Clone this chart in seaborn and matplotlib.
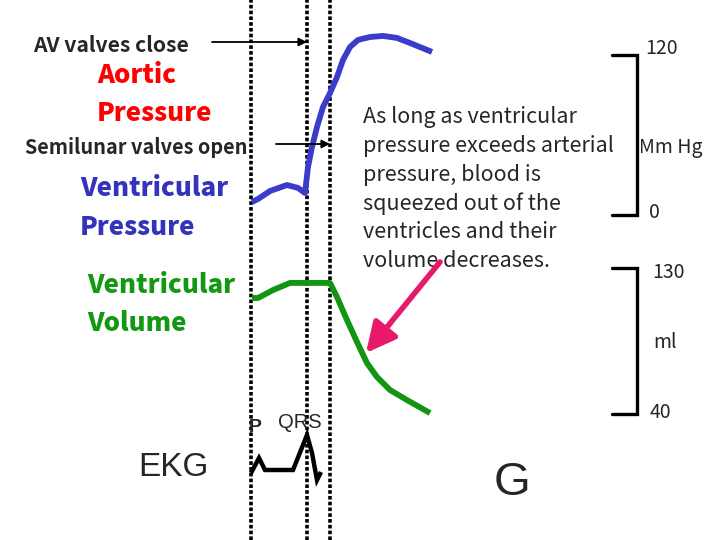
import matplotlib
matplotlib.use("Agg")
import matplotlib.pyplot as plt
import seaborn as sns
import pandas as pd

# ---------------- data ----------------
valve_times = [251, 307, 330]          # dotted event lines

pressure_t = [252, 258, 270, 287, 298, 305, 308, 312, 317, 323, 330, 337, 343, 350, 358,
              370, 383, 397, 410, 432]
pressure_mmhg = [9.8, 12.0, 18.0, 22.5, 20.3, 16.5, 36.0, 51.0, 66.0, 81.0, 91.5, 103.5,
                 116.3, 126.0, 131.3, 133.5, 134.3, 132.8, 129.0, 122.3]

volume_t = [252, 258, 273, 290, 330, 337, 347, 357, 367, 377, 390, 407, 430]
volume_ml = [111.5, 111.5, 116.4, 120.8, 120.8, 112.1, 97.9, 84.4, 71.4, 62.8, 54.8, 48.6, 40.6]

ekg_t = [251, 259, 265, 293, 307, 312, 317, 321]
ekg_mv = [-0.03, 0.12, 0.0, 0.0, 0.35, 0.17, -0.10, -0.02]

pressure_scale = [0, 120]
volume_scale = [40, 130]

paragraph = ["As long as ventricular", "pressure exceeds arterial", "pressure, blood is",
             "squeezed out of the", "ventricles and their", "volume decreases."]

# ---------------- scale mapping (drawing coordinates) ----------------
P_TOP, P_BOT = 55, 215     # y of 120 and 0 mmHg
V_TOP, V_BOT = 268, 414    # y of 130 and 40 ml
EKG_BASE, EKG_GAIN = 470, 100


def p2y(p):
    return P_BOT - (p - pressure_scale[0]) * (P_BOT - P_TOP) / (pressure_scale[1] - pressure_scale[0])


def v2y(v):
    return V_BOT - (v - volume_scale[0]) * (V_BOT - V_TOP) / (volume_scale[1] - volume_scale[0])


df_p = pd.DataFrame({"t": pressure_t, "y": [p2y(p) for p in pressure_mmhg]})
df_v = pd.DataFrame({"t": volume_t, "y": [v2y(v) for v in volume_ml]})
df_e = pd.DataFrame({"t": ekg_t, "y": [EKG_BASE - m * EKG_GAIN for m in ekg_mv]})

sns.set_style("white")
plt.rcParams['font.family'] = ['Noto Sans CJK JP', 'DejaVu Sans']

fig = plt.figure(figsize=(7.2, 5.4), dpi=100)
ax = fig.add_axes([0, 0, 1, 1])

# dotted event lines
for xv in valve_times:
    ax.axvline(xv, color="black", lw=2.6, linestyle=(0, (1.0, 0.6)), zorder=1)

BLUE = "#3b3bcc"
GREEN = "#139413"
sns.lineplot(data=df_p, x="t", y="y", ax=ax, color=BLUE, lw=4.2, sort=False,
             solid_joinstyle="round", solid_capstyle="butt", zorder=3)
sns.lineplot(data=df_v, x="t", y="y", ax=ax, color=GREEN, lw=4.2, sort=False,
             solid_joinstyle="round", solid_capstyle="butt", zorder=3)
sns.lineplot(data=df_e, x="t", y="y", ax=ax, color="black", lw=3.2, sort=False,
             solid_joinstyle="miter", solid_capstyle="butt", zorder=3)
ax.set_xlim(0, 720)
ax.set_ylim(540, 0)
ax.axis("off")

# brackets
def bracket(ytop, ybot):
    ax.plot([612, 637, 637, 612], [ytop, ytop, ybot, ybot], color="black", lw=2.4,
            solid_joinstyle="miter", zorder=2)

bracket(p2y(pressure_scale[1]), p2y(pressure_scale[0]))
bracket(v2y(volume_scale[1]), v2y(volume_scale[0]))

fs_num = 14
ax.text(662, 48, str(pressure_scale[1]), ha="center", va="center", fontsize=fs_num)
ax.text(639, 148, "Mm Hg", ha="left", va="center", fontsize=fs_num)
ax.text(654, 213, str(pressure_scale[0]), ha="center", va="center", fontsize=fs_num)
ax.text(668, 272, str(volume_scale[1]), ha="center", va="center", fontsize=fs_num)
ax.text(665, 343, "ml", ha="center", va="center", fontsize=fs_num)
ax.text(660, 413, str(volume_scale[0]), ha="center", va="center", fontsize=fs_num)

# left labels
ax.text(33, 45, "AV valves close", ha="left", va="center", fontsize=15.2, fontweight="bold")
ax.text(25, 147, "Semilunar valves open", ha="left", va="center", fontsize=14.3, fontweight="bold")
big = dict(ha="left", va="center", fontsize=18.6, fontweight="black")
ax.text(97, 75, "Aortic", color="#ff0000", **big)
ax.text(97, 113, "Pressure", color="#ff0000", **big)
ax.text(80, 188, "Ventricular", color="#3333bb", **big)
ax.text(80, 227, "Pressure", color="#3333bb", **big)
ax.text(87, 285, "Ventricular", color="#119911", **big)
ax.text(87, 323, "Volume", color="#119911", **big)

arial = ["Liberation Sans", "DejaVu Sans"]
ax.text(255, 428, "P", ha="center", va="center", fontsize=14, fontweight="bold", family=arial)
ax.text(300, 423, "QRS", ha="center", va="center", fontsize=14.5, family=arial)
ax.text(173, 467, "EKG", ha="center", va="center", fontsize=24, family=arial)
ax.text(512, 483, "G", ha="center", va="center", fontsize=34, family=arial)

for i, line in enumerate(paragraph):
    ax.text(363, 117 + i * 28.8, line, ha="left", va="center", fontsize=15.5)

# arrows
ax.annotate("", xy=(307, 42), xytext=(212, 42),
            arrowprops=dict(arrowstyle="-|>", color="black", lw=1.3, mutation_scale=12,
                            shrinkA=0, shrinkB=0))
ax.annotate("", xy=(330, 144), xytext=(276, 144),
            arrowprops=dict(arrowstyle="-|>", color="black", lw=1.3, mutation_scale=12,
                            shrinkA=0, shrinkB=0))
ax.annotate("", xy=(366, 353), xytext=(440, 262),
            arrowprops=dict(arrowstyle="-|>,head_length=0.9,head_width=0.45", color="#e8186a",
                            lw=4, mutation_scale=20, shrinkA=0, shrinkB=0))

fig.savefig("out.png", dpi=100)
